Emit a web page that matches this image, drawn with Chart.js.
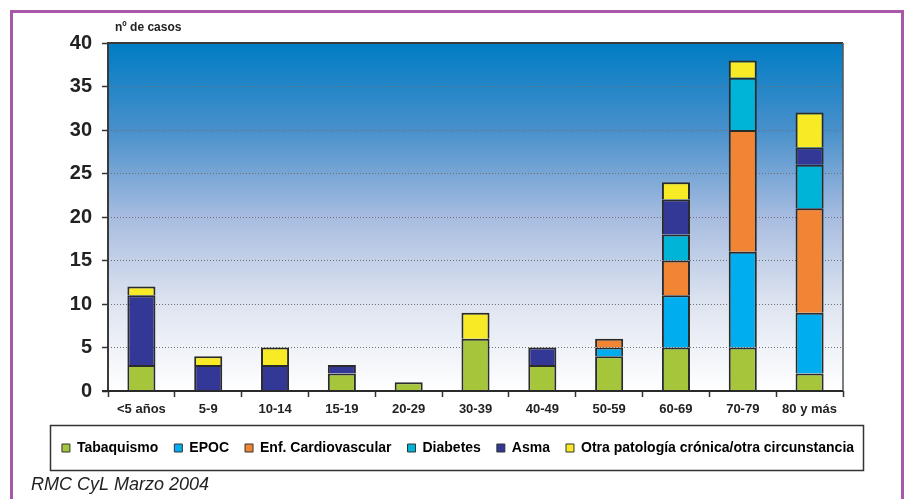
<!DOCTYPE html>
<html>
<head>
<meta charset="utf-8">
<script src="https://cdn.jsdelivr.net/npm/chart.js@4/dist/chart.umd.min.js"></script>
<style>
  html, body { margin: 0; padding: 0; background: #ffffff; }
  #wrap { width: 906px; height: 499px; position: relative; }
</style>
</head>
<body>
<div id="wrap"><canvas id="c" width="906" height="499"></canvas></div>
<script>
// Age groups (x axis)
const ageGroups = ['<5 años', '5-9', '10-14', '15-19', '20-29', '30-39', '40-49', '50-59', '60-69', '70-79', '80 y más'];

// Number of cases per cause and age group (null = no cases)
const tabaquismo     = [3, null, null, 2, 1, 6, 3, 4, 5, 5, 2];
const epoc           = [null, null, null, null, null, null, null, 1, 6, 11, 7];
const cardiovascular = [null, null, null, null, null, null, null, 1, 4, 14, 12];
const diabetes       = [null, null, null, null, null, null, null, null, 3, 6, 5];
const asma           = [8, 3, 3, 1, null, null, 2, null, 4, null, 2];
const otra           = [1, 1, 2, null, null, 3, null, null, 2, 2, 4];

const seriesNames = ['Tabaquismo', 'EPOC', 'Enf. Cardiovascular', 'Diabetes', 'Asma', 'Otra patología crónica/otra circunstancia'];
const yTicks = [0, 5, 10, 15, 20, 25, 30, 35, 40];

const colors = ['#a5c63b', '#00aeef', '#f28533', '#00b4d8', '#333795', '#f8eb25'];
const seriesData = [tabaquismo, epoc, cardiovascular, diabetes, asma, otra];

const FONT = "'Liberation Sans', Arial, sans-serif";

// Gradient plot background, frame, axis lines, captions and legend box
const decor = {
  id: 'decor',
  beforeDraw(chart) {
    const { ctx, chartArea: a } = chart;
    ctx.save();
    const g = ctx.createLinearGradient(0, a.top, 0, a.bottom);
    g.addColorStop(0, '#007cc4');
    g.addColorStop(0.25, '#4890cb');
    g.addColorStop(0.5, '#a7bce0');
    g.addColorStop(0.75, '#dee4f0');
    g.addColorStop(1, '#ffffff');
    ctx.fillStyle = g;
    ctx.fillRect(a.left, a.top, a.right - a.left, a.bottom - a.top);
    ctx.restore();
  },
  afterDatasetsDraw(chart) {
    const { ctx, chartArea: a } = chart;
    ctx.save();
    // plot frame
    ctx.strokeStyle = '#3a3a3a';
    ctx.lineWidth = 2;
    ctx.beginPath();
    ctx.moveTo(a.left, a.bottom);
    ctx.lineTo(a.left, a.top);
    ctx.lineTo(a.right, a.top);
    ctx.stroke();
    ctx.strokeStyle = '#555';
    ctx.lineWidth = 1.5;
    ctx.beginPath();
    ctx.moveTo(a.right, a.top);
    ctx.lineTo(a.right, a.bottom);
    ctx.stroke();
    ctx.strokeStyle = '#2a2a2a';
    ctx.lineWidth = 2;
    ctx.beginPath();
    ctx.moveTo(a.left - 6, a.bottom);
    ctx.lineTo(a.right, a.bottom);
    ctx.stroke();
    ctx.restore();
  },
  afterDraw(chart) {
    const { ctx } = chart;
    ctx.save();
    // outer frame
    ctx.strokeStyle = '#a858a8';
    ctx.lineWidth = 3;
    ctx.beginPath();
    ctx.moveTo(11.5, 520);
    ctx.lineTo(11.5, 11.5);
    ctx.lineTo(902.5, 11.5);
    ctx.lineTo(902.5, 520);
    ctx.stroke();
    // legend box
    ctx.strokeStyle = '#333';
    ctx.lineWidth = 1.5;
    ctx.strokeRect(50.5, 425.5, 813, 45);
    // captions
    ctx.fillStyle = '#222';
    ctx.textBaseline = 'middle';
    ctx.textAlign = 'left';
    ctx.font = 'bold 12px ' + FONT;
    ctx.fillText('nº de casos', 115, 28);
    ctx.font = 'italic 18px ' + FONT;
    ctx.fillText('RMC CyL Marzo 2004', 31, 485);
    ctx.restore();
  }
};

new Chart(document.getElementById('c'), {
  type: 'bar',
  data: {
    labels: ageGroups,
    datasets: seriesNames.map((name, i) => ({
      label: name,
      data: seriesData[i],
      backgroundColor: colors[i],
      borderColor: '#2b2b2b',
      borderWidth: { top: 2, left: 2, right: 2, bottom: 0 },
      borderSkipped: false,
      barPercentage: 0.42,
      categoryPercentage: 1.0
    }))
  },
  options: {
    responsive: false,
    animation: false,
    layout: { padding: { left: 30, right: 20, top: 43, bottom: 34 } },
    plugins: {
      tooltip: { enabled: false },
      legend: {
        position: 'bottom',
        labels: {
          boxWidth: 8,
          boxHeight: 8,
          padding: 16,
          color: '#222',
          font: { family: FONT, size: 14, weight: 'bold' },
          generateLabels(chart) {
            return chart.data.datasets.map((d, i) => ({
              text: d.label,
              fillStyle: d.backgroundColor,
              strokeStyle: '#333',
              lineWidth: 1,
              datasetIndex: i,
              hidden: false
            }));
          }
        }
      }
    },
    scales: {
      x: {
        stacked: true,
        grid: {
          offset: true,
          drawOnChartArea: false,
          tickLength: 6,
          tickColor: '#333',
          tickWidth: 1.5
        },
        border: { display: false },
        ticks: {
          color: '#222',
          padding: 5,
          maxRotation: 0,
          font: { family: FONT, size: 13, weight: 'bold' }
        },
        afterFit(s) { s.height = 34; }
      },
      y: {
        stacked: true,
        min: 0,
        max: 40,
        afterBuildTicks(s) { s.ticks = yTicks.map(v => ({ value: v })); },
        grid: {
          color: '#6f6f6f',
          lineWidth: 1,
          tickLength: 6,
          tickColor: '#333',
          tickWidth: 1.5,
          tickBorderDash: []
        },
        border: { display: false, dash: [1, 2] },
        ticks: {
          color: '#222',
          padding: 10,
          font: { family: FONT, size: 20, weight: 'bold' }
        },
        afterFit(s) { s.width = 78; }
      },
      yRight: {
        position: 'right',
        display: true,
        grid: { display: false },
        border: { display: false },
        ticks: { display: false },
        afterFit(s) { s.width = 43; }
      }
    }
  },
  plugins: [decor]
});
</script>
</body>
</html>
